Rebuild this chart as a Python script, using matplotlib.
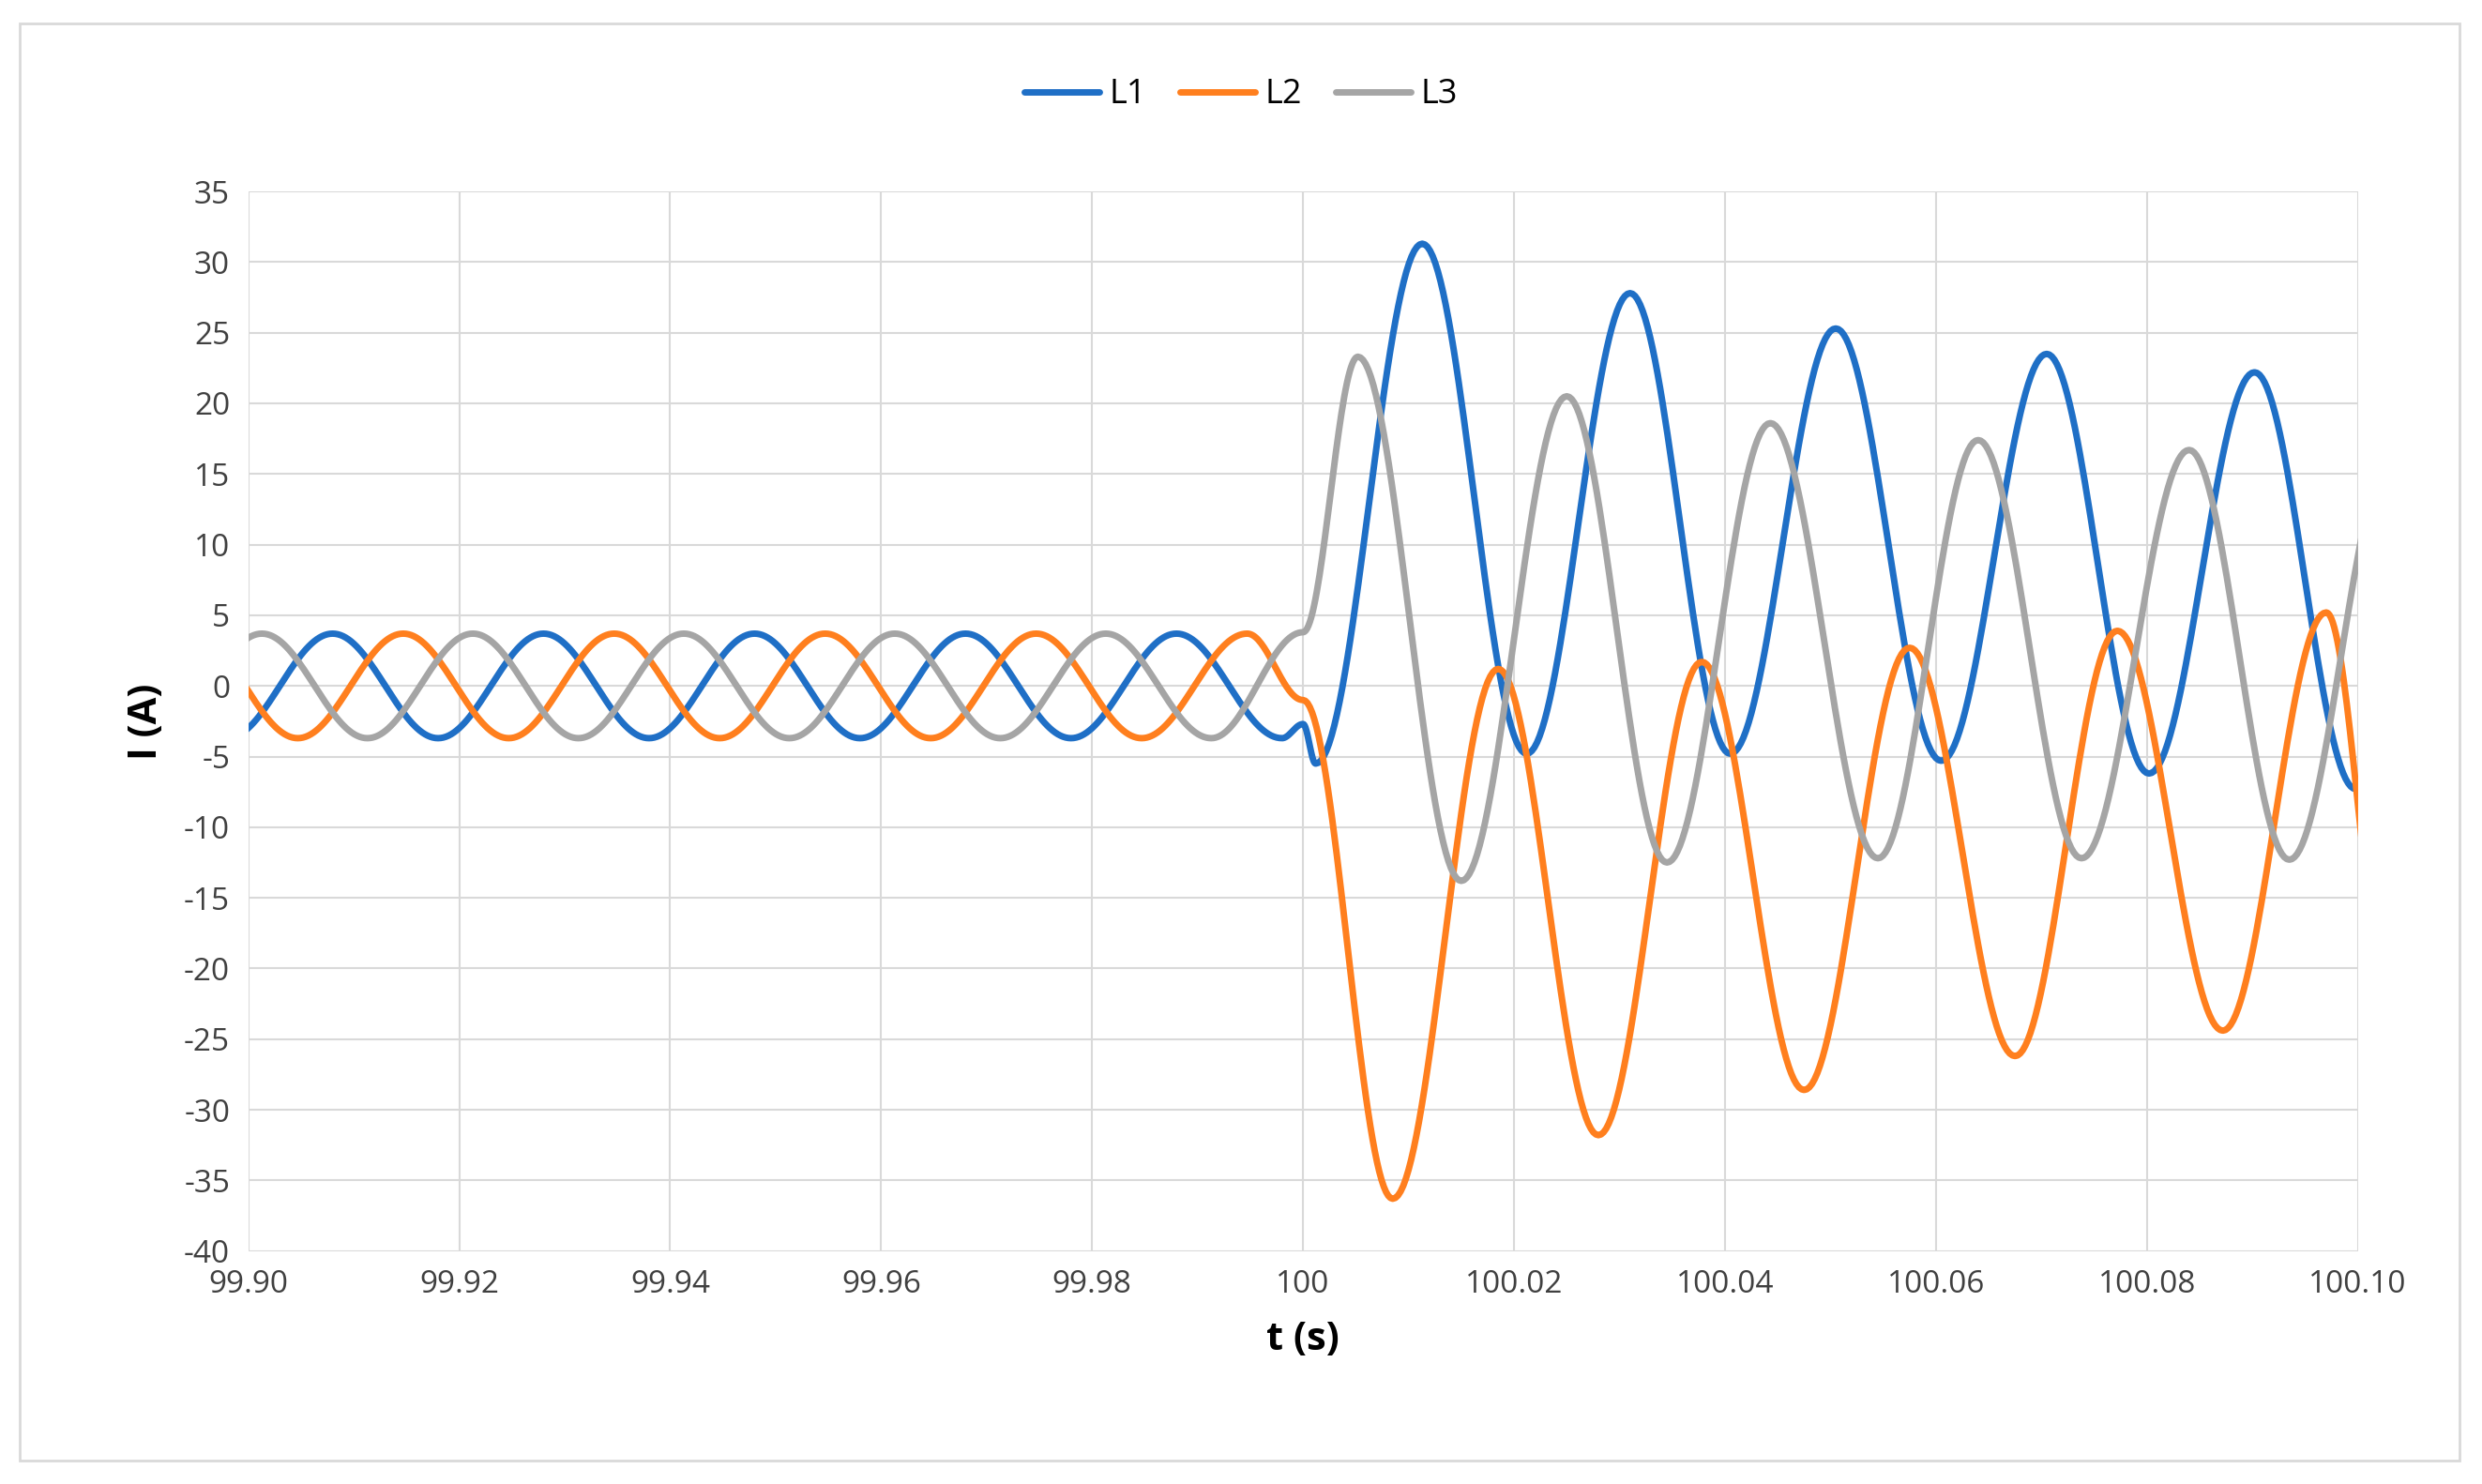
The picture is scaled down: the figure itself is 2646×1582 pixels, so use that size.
import numpy as np
import matplotlib
matplotlib.use("Agg")
import matplotlib.pyplot as plt
from matplotlib.patches import Rectangle

plt.rcParams['font.family'] = ['Open Sans', 'DejaVu Sans']
plt.rcParams['axes.unicode_minus'] = False

# Extrema / key points (time s, current A)
L1_t = [99.898,99.908,99.918,99.928,99.938,99.948,99.958,99.968,99.978,99.988,99.998,100.0,
        100.0012,100.0113,100.0212,100.031,100.0405,100.0505,100.0605,100.0705,100.0802,100.0902,100.0998]
L1_v = [-3.7,3.7,-3.7,3.7,-3.7,3.7,-3.7,3.7,-3.7,3.7,-3.7,-2.7,
        -5.5,31.3,-4.8,27.8,-4.8,25.3,-5.3,23.5,-6.2,22.2,-7.3]
L2_t = [99.8947,99.9047,99.9147,99.9247,99.9347,99.9447,99.9547,99.9647,99.9747,99.9847,99.9947,100.0,
        100.0085,100.0185,100.028,100.0378,100.0475,100.0575,100.0675,100.0772,100.0872,100.097,100.1030]
L2_v = [3.7,-3.7,3.7,-3.7,3.7,-3.7,3.7,-3.7,3.7,-3.7,3.7,-1.0,
        -36.3,1.2,-31.8,1.7,-28.6,2.7,-26.2,3.9,-24.4,5.2,-22.0]
L3_t = [99.8913,99.9013,99.9113,99.9213,99.9313,99.9413,99.9513,99.9613,99.9713,99.9813,99.9913,100.0,
        100.0052,100.015,100.025,100.0345,100.0443,100.0545,100.064,100.0738,100.084,100.0935,100.1033]
L3_v = [-3.7,3.7,-3.7,3.7,-3.7,3.7,-3.7,3.7,-3.7,3.7,-3.7,3.8,
        23.3,-13.8,20.5,-12.5,18.6,-12.2,17.4,-12.2,16.7,-12.3,16.5]
series_names = ["L1", "L2", "L3"]
colors = ["#1F6FC6", "#FF7F1E", "#A5A5A5"]
xticks = [99.90,99.92,99.94,99.96,99.98,100.0,100.02,100.04,100.06,100.08,100.10]
xtick_labels = ["99.90","99.92","99.94","99.96","99.98","100","100.02","100.04","100.06","100.08","100.10"]
yticks = list(range(-40, 36, 5))

def smooth(ts, vs, n=40):
    xs, ys = [], []
    for i in range(len(ts) - 1):
        s = np.linspace(0, 1, n, endpoint=False)
        w = (1 - np.cos(np.pi * s)) / 2
        xs.append(ts[i] + (ts[i+1] - ts[i]) * s)
        ys.append(vs[i] + (vs[i+1] - vs[i]) * w)
    xs.append([ts[-1]]); ys.append([vs[-1]])
    return np.concatenate(xs), np.concatenate(ys)

fig = plt.figure(figsize=(26.46, 15.82), dpi=100)
fig.patches.append(Rectangle((0.008, 0.016), 0.983, 0.968, transform=fig.transFigure,
                             fill=False, edgecolor="#D9D9D9", linewidth=2))
ax = fig.add_axes([0.100, 0.157, 0.850, 0.714])
for (ts, vs), name, c in zip([(L1_t, L1_v), (L2_t, L2_v), (L3_t, L3_v)], series_names, colors):
    x, y = smooth(ts, vs)
    ax.plot(x, y, color=c, lw=5, label=name, solid_capstyle="round")
ax.set_xlim(99.90, 100.10)
ax.set_ylim(-40, 35)
ax.set_xticks(xticks)
ax.set_xticklabels(xtick_labels)
ax.set_yticks(yticks)
ax.grid(True, color="#D9D9D9", lw=1.5)
for s in ax.spines.values():
    s.set_visible(False)
ax.tick_params(length=0, labelsize=24, colors="#404040", pad=14)
ax.set_xlabel("t (s)", fontsize=30, fontweight="bold", labelpad=16)
ax.set_ylabel("I (A)", fontsize=30, fontweight="bold", labelpad=14)
fig.legend(loc="center", bbox_to_anchor=(0.5, 0.936), ncol=3, frameon=False,
           fontsize=26, handlelength=2.2, columnspacing=1.0, handletextpad=0.3)
fig.savefig("out.png", dpi=100)
